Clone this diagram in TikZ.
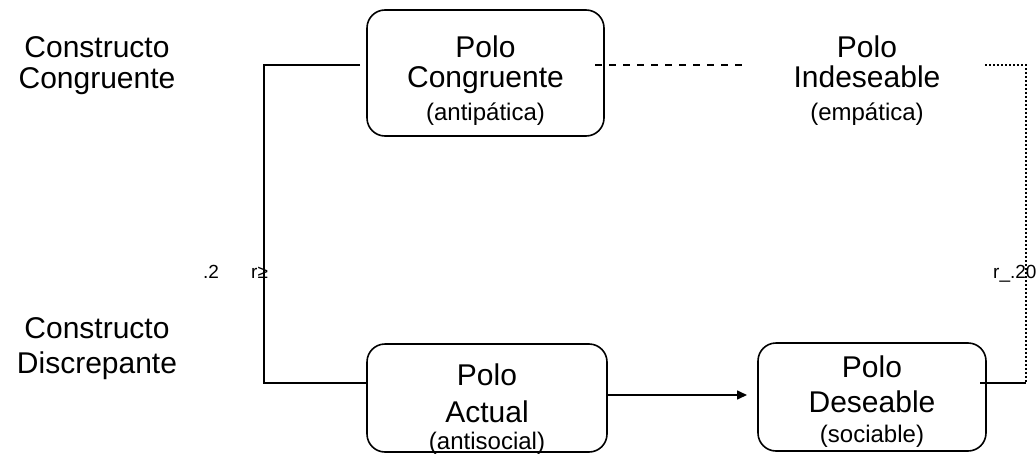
\documentclass[tikz,border=0pt]{standalone}
\usepackage{fontspec}
\setmainfont{Liberation Sans}
\usetikzlibrary{arrows.meta}
\begin{document}
\begin{tikzpicture}[x=1pt,y=-1pt,
  polebox/.style={draw,line width=1.6pt,rounded corners=18pt,inner sep=0pt},
  big/.style={font=\fontsize{30}{33}\selectfont,anchor=base,inner sep=0pt},
  sub/.style={font=\fontsize{24}{26}\selectfont,anchor=base,inner sep=0pt},
  lab/.style={font=\fontsize{19}{21}\selectfont,anchor=base west,inner sep=0pt},
  conn/.style={line width=1.6pt}]
\useasboundingbox (0,0) rectangle (1036,455);
% boxes
\node[polebox,minimum width=237pt,minimum height=126pt] (b1) at (485.5,73) {};
\node[polebox,minimum width=240pt,minimum height=108pt] (b2) at (487,398) {};
\node[polebox,minimum width=228pt,minimum height=108pt] (b3) at (872,397) {};
% box texts
\node[big] (t1a) at (485.5,57) {Polo};
\node[big] (t1b) at (485.5,87) {Congruente};
\node[sub] (t1c) at (485.5,120) {(antipática)};
\node[big] (t2a) at (487,385) {Polo};
\node[big] (t2b) at (487,422) {Actual};
\node[sub] (t2c) at (487,449) {(antisocial)};
\node[big] (t3a) at (872,377) {Polo};
\node[big] (t3b) at (872,412) {Deseable};
\node[sub] (t3c) at (872,442) {(sociable)};
\node[big] (t4a) at (867,57) {Polo};
\node[big] (t4b) at (867,87) {Indeseable};
\node[sub] (t4c) at (867,120) {(empática)};
% left texts
\node[big] (l1a) at (97,57) {Constructo};
\node[big] (l1b) at (97,88) {Congruente};
\node[big] (l2a) at (97,338) {Constructo};
\node[big] (l2b) at (97,373) {Discrepante};
% labels
\node[lab] (r1) at (203,278) {.2};
\node[lab] (r2) at (251,278) {r≥};
\node[lab] (r3) at (993,278) {r\_.20};
% coordinates
\coordinate (c1) at (360,65);
\coordinate (c2) at (264,65);
\coordinate (c3) at (264,383);
\coordinate (d1) at (595,65);
\coordinate (d2) at (744,65);
\coordinate (e1) at (985,65);
\coordinate (e2) at (1026,65);
\coordinate (e3) at (1026,383);
\coordinate (f1) at (980,383);
\coordinate (a1) at (747,395);
% connectors
\draw[conn] (c1) -- (c2) -- (c3) -- (b2.west |- c3);
\draw[conn,dash pattern=on 7pt off 7pt] (d1) -- (d2);
\draw[line width=1.6pt,dash pattern=on 2pt off 2pt] (e1) -- (e2) -- (e3);
\draw[conn] (f1) -- (e3);
\draw[conn,-{Triangle[length=10pt,width=9pt]}] (b2.east |- a1) -- (a1);
\end{tikzpicture}
\end{document}
